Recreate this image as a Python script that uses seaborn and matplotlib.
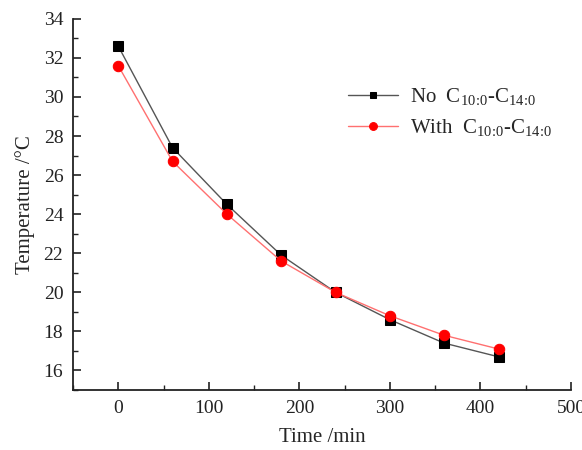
import matplotlib
matplotlib.use("Agg")
import matplotlib.pyplot as plt
import seaborn as sns
import pandas as pd
from matplotlib.ticker import MultipleLocator

time_min = [0, 60, 120, 180, 240, 300, 360, 420]
temp_no = [32.6, 27.4, 24.5, 21.9, 20.0, 18.6, 17.4, 16.7]
temp_with = [31.6, 26.7, 24.0, 21.6, 20.0, 18.8, 17.8, 17.1]
labels = [r"No  C$_{10\!:\!0}$-C$_{14\!:\!0}$", r"With  C$_{10\!:\!0}$-C$_{14\!:\!0}$"]

sns.set_theme(style="ticks")
plt.rcParams["font.family"] = ["Liberation Serif", "DejaVu Serif"]
plt.rcParams["mathtext.fontset"] = "custom"
plt.rcParams["mathtext.rm"] = "Liberation Serif"
plt.rcParams["mathtext.it"] = "Liberation Serif:italic"

df = pd.DataFrame({
    "time": time_min * 2,
    "temp": temp_no + temp_with,
    "series": [labels[0]] * len(time_min) + [labels[1]] * len(time_min),
})

fig = plt.figure(figsize=(5.82, 4.5), dpi=100)
ax = fig.add_axes([0.1254, 0.1333, 0.8556, 0.825])

line_colors = {labels[0]: "#555555", labels[1]: "#ff7070"}
marker_colors = {labels[0]: "black", labels[1]: "red"}
markers = {labels[0]: "s", labels[1]: "o"}
sizes = {labels[0]: 6.5, labels[1]: 7.5}

for lab in labels:
    sub = df[df["series"] == lab]
    sns.lineplot(data=sub, x="time", y="temp", ax=ax, color=line_colors[lab],
                 linewidth=1.0, marker=markers[lab], markersize=sizes[lab],
                 markerfacecolor=marker_colors[lab], markeredgecolor=marker_colors[lab],
                 label=lab, sort=False)

ax.set_xlim(-50, 500)
ax.set_ylim(15, 34)
ax.xaxis.set_major_locator(MultipleLocator(100))
ax.xaxis.set_minor_locator(MultipleLocator(50))
ax.set_yticks(range(16, 35, 2))
ax.yaxis.set_minor_locator(MultipleLocator(1))
ax.tick_params(which="major", direction="in", length=6, width=1.2, labelsize=14,
               colors="#222222", pad=7)
ax.tick_params(which="minor", direction="in", length=3.5, width=1.0, colors="#222222")
for s in ["top", "right"]:
    ax.spines[s].set_visible(False)
for s in ["left", "bottom"]:
    ax.spines[s].set_linewidth(1.3)
    ax.spines[s].set_color("#222222")

ax.set_xlabel("Time /min", fontsize=15, labelpad=8)
ax.set_ylabel("Temperature /°C", fontsize=15, labelpad=6)

leg = ax.legend(loc="upper left", bbox_to_anchor=(0.535, 0.84), frameon=False,
                fontsize=15, handlelength=2.4, handletextpad=0.6,
                labelspacing=0.45, borderaxespad=0, markerscale=0.75)

fig.savefig("out.png", dpi=100)
